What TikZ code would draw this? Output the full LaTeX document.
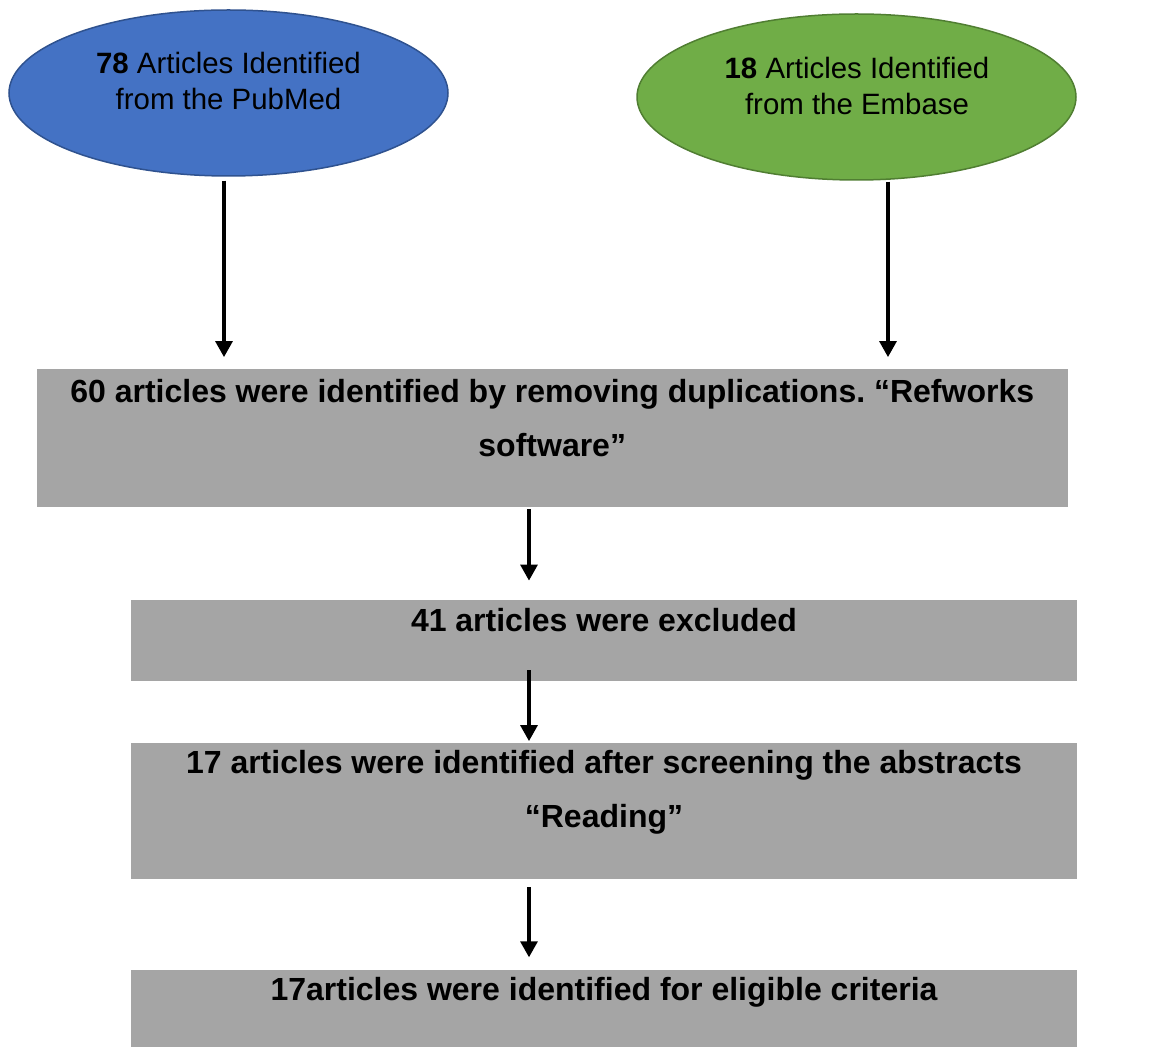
\documentclass[tikz,border=0pt]{standalone}
\usepackage{fontspec}
\setmainfont{Liberation Sans}
\frenchspacing
\usetikzlibrary{shapes.geometric,arrows.meta}
\definecolor{pubblue}{HTML}{4472C4}
\definecolor{pubedge}{HTML}{2F528F}
\definecolor{embgreen}{HTML}{70AD47}
\definecolor{embedge}{HTML}{507E32}
\definecolor{boxgrey}{HTML}{A5A5A5}
\tikzset{
  source/.style={ellipse, draw, line width=0.75pt, minimum width=219.5pt, minimum height=83pt, inner sep=0pt},
  srctext/.style={anchor=north, align=center, inner sep=0pt, font=\fontsize{14.7pt}{18.2pt}\selectfont},
  stepbox/.style={rectangle, fill=boxgrey, inner sep=0pt, minimum width=473pt},
  boxtext/.style={anchor=north, align=center, inner sep=0pt, font=\bfseries\fontsize{16pt}{27pt}\selectfont},
  flow/.style={-{Triangle[length=8pt,width=8.5pt]}, line width=1.6pt}
}
\begin{document}
\begin{tikzpicture}[x=0.5pt,y=-0.5pt]
\useasboundingbox (0,0) rectangle (1175,1047);
\node[source, fill=pubblue, draw=pubedge] (pub) at (228.5,93) {};
\node[srctext] (pubtext) at (228.5,51.7) {\textbf{78} Articles Identified\\from the PubMed};
\node[source, fill=embgreen, draw=embedge] (emb) at (856.5,97) {};
\node[srctext] (embtext) at (857,56.7) {\textbf{18} Articles Identified\\from the Embase};
\node[stepbox, minimum width=515.75pt, minimum height=68.75pt] (dup) at (552.25,438.25) {};
\node[boxtext] (duptext) at ([yshift=-4.8pt]dup.north) {60 articles were identified by removing duplications. “Refworks\\software”};
\node[stepbox, minimum height=40.5pt] (excl) at (604,640.5) {};
\node[boxtext] (excltext) at ([yshift=-4pt]excl.north) {41 articles were excluded};
\node[stepbox, minimum height=68pt] (abst) at (604,811) {};
\node[boxtext] (absttext) at ([yshift=-3.8pt]abst.north) {17 articles were identified after screening the abstracts\\“Reading”};
\node[stepbox, minimum height=38.5pt] (elig) at (604,1008.5) {};
\node[boxtext] (eligtext) at ([yshift=-3.5pt]elig.north) {17articles were identified for eligible criteria};
\coordinate (spine) at (529,0);
\draw[flow, shorten <=2pt, shorten >=6pt] ([xshift=-2.25pt]pub.south) -- ([xshift=-2.25pt]pub.south |- dup.north);
\draw[flow, shorten <=0.5pt, shorten >=6pt] ([xshift=15.75pt]emb.south) -- ([xshift=15.75pt]emb.south |- dup.north);
\draw[flow, shorten <=1pt, shorten >=9.5pt] (spine |- dup.south) -- (spine |- excl.north);
\draw[flow, shorten <=-5.5pt, shorten >=0.75pt] (spine |- excl.south) -- (spine |- abst.north);
\draw[flow, shorten <=3.85pt, shorten >=6.15pt] (spine |- abst.south) -- (spine |- elig.north);
\end{tikzpicture}
\end{document}
